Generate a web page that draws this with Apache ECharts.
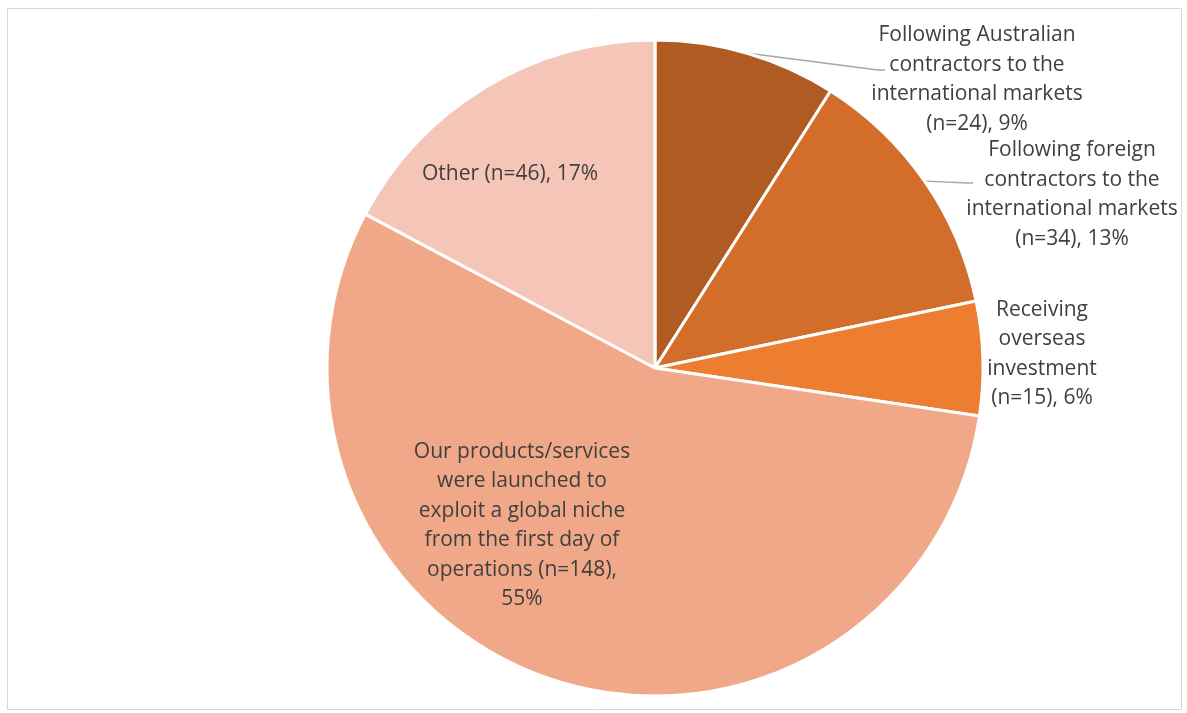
<!DOCTYPE html>
<html>
<head>
<meta charset="utf-8">
<title>Pathways to international markets</title>
<script src="https://cdn.jsdelivr.net/npm/echarts@6/dist/echarts.min.js"></script>
<style>
  html, body { margin: 0; padding: 0; background: #ffffff; }
  #chart { width: 1187px; height: 713px; }
</style>
</head>
<body>
<div id="chart"></div>
<script>
// Respondent counts per pathway (n) and their wrapped label text
const categories = [
  'Following Australian\ncontractors to the\ninternational markets',
  'Following foreign\ncontractors to the\ninternational markets',
  'Receiving\noverseas\ninvestment',
  'Our products/services\nwere launched to\nexploit a global niche\nfrom the first day of\noperations',
  'Other'
];
const counts = [24, 34, 15, 148, 46];
// separators placed before "(n=..)" and before the percentage
const labelBreaks = [['\n', ' '], ['\n', ' '], ['\n', ' '], [' ', '\n'], [' ', ' ']];
const sliceColors = ['#B05B22', '#D26D2A', '#ED7D31', '#F0A888', '#F5C6B7'];

// layout: label centres and elbow points of the guide lines (px)
const labelSpots = [[977, 79.5], [1072, 194.5], [1042, 354], [522, 525.5], [510, 174]];
const guideEnds = [[[878, 70], [885, 70]], [[968, 183], [973, 183]], null, null, null];

const chart = echarts.init(document.getElementById('chart'), null, { renderer: 'canvas' });

const seriesData = categories.map((name, i) => ({
  name: name,
  value: counts[i],
  itemStyle: { color: sliceColors[i] },
  label: { position: i < 3 ? 'outside' : 'inside' },
  labelLine: { show: guideEnds[i] != null }
}));

chart.setOption({
  backgroundColor: '#ffffff',
  animation: false,
  graphic: [{
    type: 'rect',
    shape: { x: 7.5, y: 8.5, width: 1174, height: 701 },
    style: { fill: 'none', stroke: '#D9D9D9', lineWidth: 1 },
    silent: true
  }],
  series: [{
    type: 'pie',
    center: [655, 368],
    radius: 328,
    startAngle: 90,
    clockwise: true,
    percentPrecision: 0,
    avoidLabelOverlap: false,
    itemStyle: { borderColor: '#ffffff', borderWidth: 3 },
    label: {
      color: '#404040',
      fontFamily: '"Open Sans", "Noto Sans", sans-serif',
      fontSize: 21,
      lineHeight: 29.5,
      align: 'center',
      formatter: function (p) {
        const br = labelBreaks[p.dataIndex];
        return p.name + br[0] + '(n=' + p.value + '),' + br[1] + p.percent + '%';
      }
    },
    labelLine: {
      lineStyle: { color: '#A6A6A6', width: 1.3 },
      length: 20,
      length2: 20
    },
    labelLayout: function (p) {
      const spot = labelSpots[p.dataIndex];
      const out = { x: spot[0], y: spot[1], align: 'center', verticalAlign: 'middle' };
      const ends = guideEnds[p.dataIndex];
      if (ends && p.labelLinePoints) {
        out.labelLinePoints = [p.labelLinePoints[0], ends[0], ends[1]];
      }
      return out;
    },
    data: seriesData
  }]
});
</script>
</body>
</html>
